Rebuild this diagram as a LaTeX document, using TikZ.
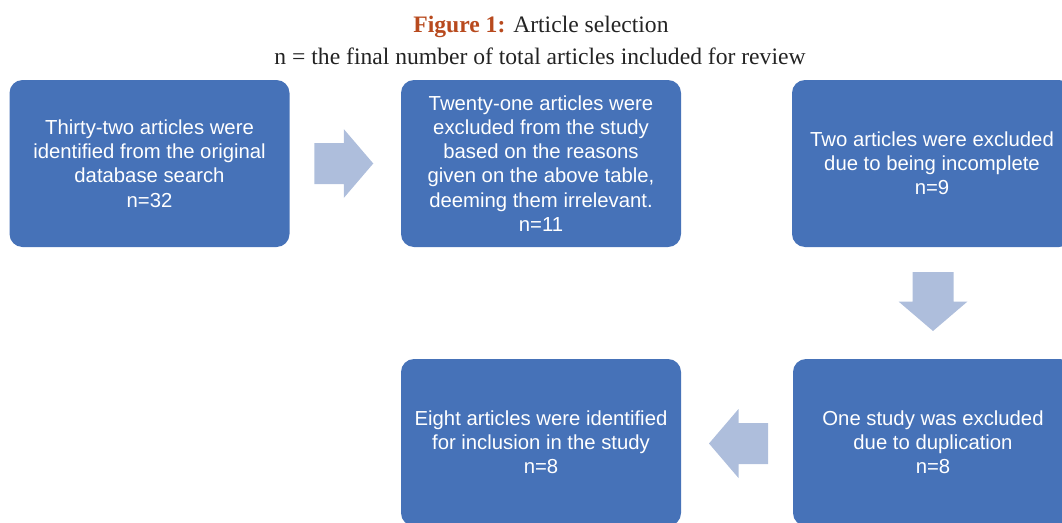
\documentclass[tikz,border=0pt]{standalone}
\usepackage{fontspec}
\setmainfont{Liberation Serif}
\newfontfamily\arialfont{Liberation Sans}
\usetikzlibrary{calc}
\definecolor{boxblue}{HTML}{4672B8}
\definecolor{arrowblue}{HTML}{AEBEDC}
\definecolor{titlered}{HTML}{B84A1E}
\definecolor{titlegray}{HTML}{232323}
\tikzset{
  stepbox/.style={rectangle, rounded corners=13pt, fill=boxblue, text=white,
    minimum width=280pt, minimum height=167pt, inner sep=0pt, align=center,
    font=\arialfont\fontsize{20.3}{24.2}\selectfont},
  titletext/.style={inner sep=0pt, anchor=base, text=titlegray, font=\fontsize{23.6}{28}\selectfont},
  blockarrow/.pic={\fill[arrowblue] (-29.5,-20.5) -- (0,-20.5) -- (0,-34.5) -- (29.5,0) -- (0,34.5) -- (0,20.5) -- (-29.5,20.5) -- cycle;}
}
\begin{document}
\begin{tikzpicture}[x=1pt,y=-1pt]
\useasboundingbox (0,0) rectangle (1062,522);
\clip (0,0) rectangle (1062,522);
\node[titletext] (t1) at (541,32) {\textcolor{titlered}{\textbf{Figure 1:}} Article selection};
\node[titletext] (t2) at (540,64) {n = the final number of total articles included for review};
\node[stepbox] (b1) at (149.5,163.5) {Thirty-two articles were\\identified from the original\\database search\\n=32};
\node[stepbox] (b2) at (541,163.5) {Twenty-one articles were\\excluded from the study\\based on the reasons\\given on the above table,\\deeming them irrelevant.\\n=11};
\node[stepbox] (b3) at (932,163.5) {Two articles were excluded\\due to being incomplete\\n=9};
\node[stepbox] (b4) at (933,442.5) {One study was excluded\\due to duplication\\n=8};
\node[stepbox] (b5) at (541,442.5) {Eight articles were identified\\for inclusion in the study\\n=8};
\coordinate (a1) at ($(b1.east)!0.5!(b2.west)+(-1.5,0)$);
\coordinate (a2) at ($(b3.south)!0.5!(b4.north)+(0.5,-1.5)$);
\coordinate (a3) at ($(b4.west)!0.5!(b5.east)+(1.5,1)$);
\pic at (a1) {blockarrow};
\pic[rotate=-90] at (a2) {blockarrow};
\pic[rotate=180] at (a3) {blockarrow};
\end{tikzpicture}
\end{document}
